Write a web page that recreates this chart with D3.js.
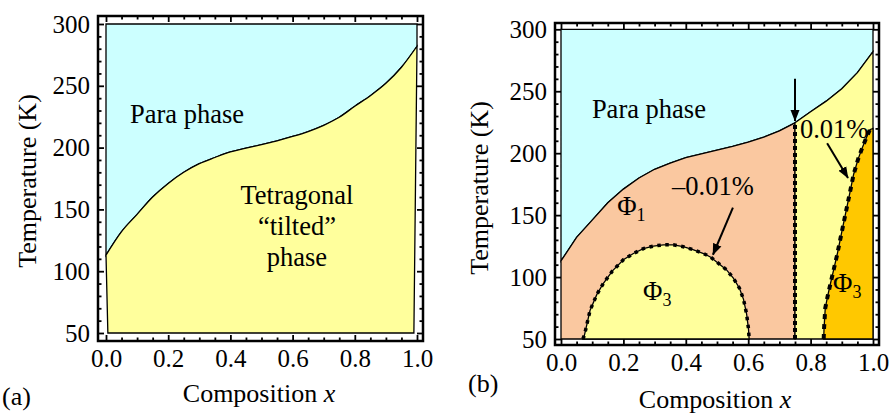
<!DOCTYPE html>
<html>
<head>
<meta charset="utf-8">
<script src="https://cdn.jsdelivr.net/npm/d3@7"></script>
<style>
  body { margin: 0; background: #fff; }
  svg text { font-family: "Liberation Serif", "Times New Roman", serif; fill: #000; }
</style>
</head>
<body>
<div id="phase_plot"></div>
<script>
// transition line Tc(x) between para phase and tilted phase
let tcX = [0, 0.05, 0.1, 0.15, 0.2, 0.25, 0.3, 0.35, 0.4, 0.45, 0.5, 0.55, 0.6, 0.65, 0.7, 0.75, 0.8, 0.85, 0.9, 0.95, 1.0]
let tcT = [113, 132, 146, 160, 171, 180, 187, 192, 196.5, 199.5, 202.5, 205.5, 209, 213, 218, 224.5, 233.5, 242, 252, 265, 282]

// Phi3 dome (-0.01% strain contour)
let domeX = [0.07, 0.075, 0.093, 0.115, 0.136, 0.165, 0.2, 0.232, 0.264, 0.296, 0.328, 0.36, 0.392, 0.425, 0.457, 0.48, 0.5, 0.53, 0.553, 0.572, 0.585, 0.595, 0.601, 0.603]
let domeT = [50, 53, 73, 86, 95, 105, 114, 119, 123, 125, 126, 126, 124.5, 122, 119, 116, 112, 106, 99, 91, 82, 70, 58, 50]

// Phi3 boundary on the right (+0.01% strain contour)
let edgeX = [0.842, 0.843, 0.847, 0.855, 0.863, 0.874, 0.885, 0.898, 0.911, 0.925, 0.938, 0.952, 0.965, 0.978, 0.99]
let edgeT = [50, 58, 75, 85, 94, 106, 118, 134, 150, 167, 183, 195, 204, 212, 219]
let edgeTopT = 220

// vertical boundary between Phi1 and the right region
let splitX = 0.75

let xTicks = [0, 0.2, 0.4, 0.6, 0.8, 1.0]
let yTicks = [50, 100, 150, 200, 250, 300]

// annotations (data coordinates)
let arrowsB = [
    { from: [0.75, 260], to: [0.75, 226] },
    { from: [0.551, 156], to: [0.487, 118] },
    { from: [0.853, 208], to: [0.92, 180] }
]
let labelsA = [
    { text: "Para phase", x: 0.077, t: 220, anchor: "start" },
    { text: "Tetragonal", x: 0.614, t: 154.5, anchor: "middle" },
    { text: "\u201Ctilted\u201D", x: 0.614, t: 129.5, anchor: "middle" },
    { text: "phase", x: 0.614, t: 104.5, anchor: "middle" }
]
let labelsB = [
    { text: "Para phase", x: 0.099, t: 228, anchor: "start" },
    { text: "\u20130.01%", x: 0.356, t: 166, anchor: "start" },
    { text: "0.01%", x: 0.766, t: 212, anchor: "start" }
]
let phiB = [
    { sub: "1", x: 0.18, t: 150 },
    { sub: "3", x: 0.263, t: 81.5 },
    { sub: "3", x: 0.872, t: 88 }
]

let colBlue = "#ccffff"
let colYellow = "#ffff9c"
let colPeach = "#fac8a0"
let colGold = "#ffc800"

let W = 890, H = 413
let svg = d3.select("#phase_plot").append("svg")
    .attr("width", W)
    .attr("height", H)

svg.append("defs").append("marker")
    .attr("id", "head")
    .attr("markerUnits", "userSpaceOnUse")
    .attr("viewBox", "0 -5 12 10")
    .attr("refX", 11)
    .attr("refY", 0)
    .attr("markerWidth", 12)
    .attr("markerHeight", 10)
    .attr("orient", "auto")
    .append("path")
    .attr("d", "M0,-4.5L11.5,0L0,4.5Z")
    .attr("fill", "#000")

let zip = (xs, ts) => xs.map((v, i) => [v, ts[i]])
let tc = zip(tcX, tcT)

function panel(p) {
    let x = d3.scaleLinear().domain([0, 1]).range(p.xr)
    let y = d3.scaleLinear().domain([50, 300]).range(p.yr)
    let g = svg.append("g")
    let line = d3.line().x(d => x(d[0])).y(d => y(d[1]))

    // axes with inward ticks on all four sides
    let minorX = d3.range(0, 1.0001, 0.05).filter(v => Math.abs(v * 5 - Math.round(v * 5)) > 1e-6)
    let minorY = d3.range(50, 301, 10).filter(v => v % 50 != 0)
    let fr = p.frame
    let axes = [
        [d3.axisBottom(x), "translate(0," + fr[3] + ")", xTicks, minorX, d3.format(".1f")],
        [d3.axisTop(x), "translate(0," + fr[1] + ")", xTicks, minorX, ""],
        [d3.axisLeft(y), "translate(" + fr[0] + ",0)", yTicks, minorY, d3.format("d")],
        [d3.axisRight(y), "translate(" + fr[2] + ",0)", yTicks, minorY, ""]
    ]
    axes.forEach(a => {
        let major = g.append("g").attr("transform", a[1])
            .call(a[0].tickValues(a[2]).tickSize(-6).tickPadding(8).tickFormat(a[4]))
        major.select(".domain").remove()
        major.selectAll("line").attr("stroke-width", 1.8)
        major.selectAll("text").style("font-family", "Liberation Serif").style("font-size", "25px")
        let minor = g.append("g").attr("transform", a[1])
            .call(a[0].tickValues(a[3]).tickSize(-3.5).tickFormat(""))
        minor.select(".domain").remove()
        minor.selectAll("line").attr("stroke-width", 1.8)
    })
    g.selectAll("text").attr("fill", "#000")

    g.append("rect")
        .attr("x", fr[0]).attr("y", fr[1])
        .attr("width", fr[2] - fr[0]).attr("height", fr[3] - fr[1])
        .attr("fill", "none").attr("stroke", "#000").attr("stroke-width", 2.5)

    // axis titles
    g.append("text")
        .attr("transform", "translate(" + p.yTitle[0] + "," + p.yTitle[1] + ") rotate(-90)")
        .attr("text-anchor", "middle")
        .style("font-size", "26px")
        .text("Temperature (K)")
    let xt = g.append("text")
        .attr("x", p.xTitle[0]).attr("y", p.xTitle[1])
        .attr("text-anchor", "middle")
        .style("font-size", "26px")
    xt.append("tspan").text("Composition ")
    xt.append("tspan").style("font-style", "italic").text("x")
    g.append("text")
        .attr("x", p.tag[0]).attr("y", p.tag[1])
        .style("font-size", "26px")
        .text(p.tagText)

    return { g, x, y, line }
}

// ---------- panel (a) ----------
let a = panel({
    xr: [106, 417], yr: [333, 24], frame: [98, 16, 423, 341],
    yTitle: [36, 181], xTitle: [259, 402], tag: [2, 405], tagText: "(a)"
})
let smoothA = d3.line().x(d => a.x(d[0])).y(d => a.y(d[1])).curve(d3.curveMonotoneX)
let corners = pts => pts.map(d => "L" + a.x(d[0]) + "," + a.y(d[1])).join("")
a.g.append("path")
    .attr("d", "M" + a.x(0) + "," + a.y(300) + corners([[1, 300]]) + "L" + smoothA(tc.slice().reverse()).slice(1) + "Z")
    .attr("fill", colBlue).attr("stroke", "#000").attr("stroke-width", 1.3)
a.g.append("path")
    .attr("d", smoothA(tc) + corners([[0.99, 50], [0.006, 50]]) + "Z")
    .attr("fill", colYellow).attr("stroke", "#000").attr("stroke-width", 1.3)
labelsA.forEach(l => {
    a.g.append("text")
        .attr("x", a.x(l.x)).attr("y", a.y(l.t))
        .attr("text-anchor", l.anchor)
        .style("font-size", "26.5px")
        .text(l.text)
})

// ---------- panel (b) ----------
let b = panel({
    xr: [561, 873], yr: [339, 29.3], frame: [555, 23, 879, 345],
    yTitle: [488, 188], xTitle: [715, 408], tag: [468, 392], tagText: "(b)"
})
let paraB = [[0, 300], [1, 300]].concat(tc.slice().reverse())
let leftTc = tc.filter(d => d[0] <= splitX)
let rightTc = tc.filter(d => d[0] >= splitX)
let phi1 = leftTc.concat([[splitX, 50], [0, 50]])
let rightReg = rightTc.concat([[1, 50], [splitX, 50]])
let edge = zip(edgeX, edgeT)
let gold = edge.concat([[1, edgeTopT], [1, 50]])
let dome = zip(domeX, domeT)

let fills = [[paraB, colBlue], [phi1, colPeach], [rightReg, colYellow], [gold, colGold], [dome, colYellow]]
fills.forEach(f => {
    b.g.append("path").attr("d", b.line(f[0]) + "Z")
        .attr("fill", f[1]).attr("stroke", "#000").attr("stroke-width", 1.3)
})

// dotted strain contours
b.g.append("path").attr("d", b.line(dome))
    .attr("fill", "none").attr("stroke", "#000")
    .attr("stroke-width", 3.5).attr("stroke-dasharray", "3.5,4.5")
b.g.append("path").attr("d", b.line([[splitX, 50], [splitX, 224.5]]))
    .attr("fill", "none").attr("stroke", "#000")
    .attr("stroke-width", 4).attr("stroke-dasharray", "4,3")
b.g.append("path").attr("d", b.line(edge))
    .attr("fill", "none").attr("stroke", "#000")
    .attr("stroke-width", 4).attr("stroke-dasharray", "5,5")

labelsB.forEach(l => {
    b.g.append("text")
        .attr("x", b.x(l.x)).attr("y", b.y(l.t))
        .attr("text-anchor", l.anchor)
        .style("font-size", "26.5px")
        .text(l.text)
})
phiB.forEach(l => {
    let t = b.g.append("text")
        .attr("x", b.x(l.x)).attr("y", b.y(l.t))
        .style("font-size", "26.5px")
    t.append("tspan").text("\u03A6")
    t.append("tspan").attr("dy", 6).style("font-size", "18px").text(l.sub)
})

arrowsB.forEach(d => {
    b.g.append("line")
        .attr("x1", b.x(d.from[0])).attr("y1", b.y(d.from[1]))
        .attr("x2", b.x(d.to[0])).attr("y2", b.y(d.to[1]))
        .attr("stroke", "#000").attr("stroke-width", 2)
        .attr("marker-end", "url(#head)")
})
</script>
</body>
</html>
